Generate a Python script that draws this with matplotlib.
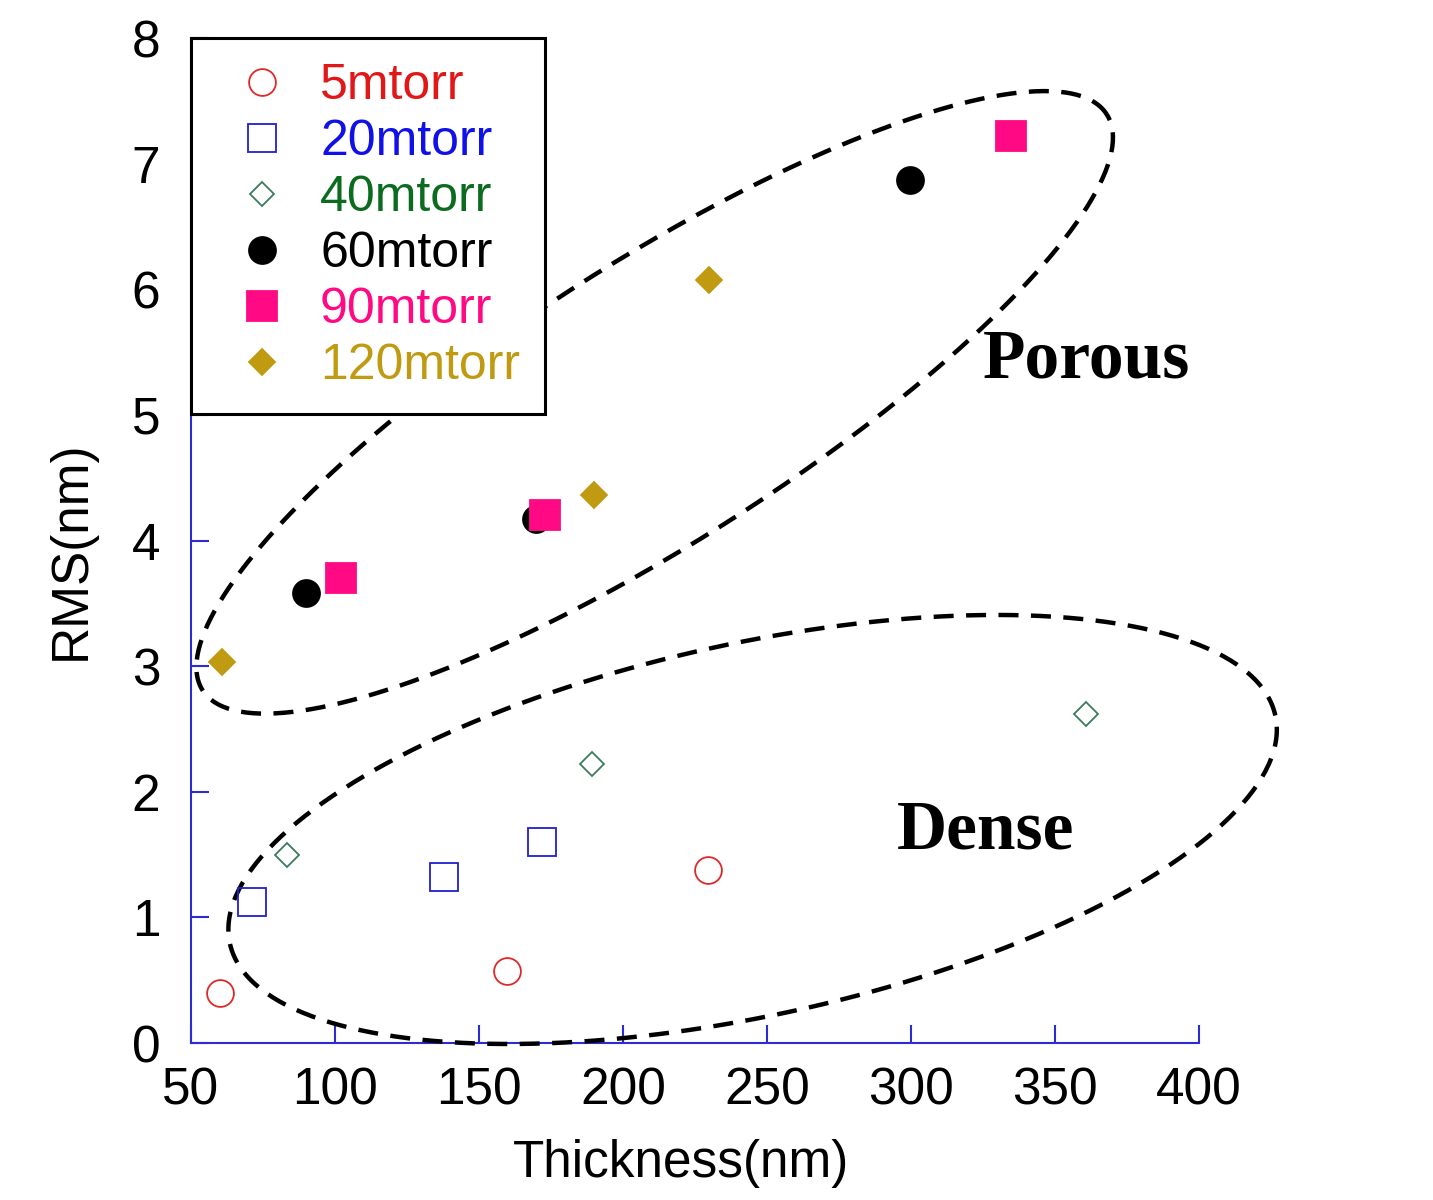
import numpy as np
import matplotlib
matplotlib.use("Agg")
import matplotlib.pyplot as plt

# data
labels = ["5mtorr", "20mtorr", "40mtorr", "60mtorr", "90mtorr", "120mtorr"]
thick_5 = [60.1, 159.7, 229.5]
rms_5 = [0.40, 0.57, 1.38]
thick_20 = [71.2, 137.8, 171.9]
rms_20 = [1.12, 1.32, 1.60]
thick_40 = [83.3, 189.2, 360.8]
rms_40 = [1.50, 2.22, 2.62]
thick_60 = [89.9, 169.8, 299.7]
rms_60 = [3.58, 4.17, 6.87]
thick_90 = [102.1, 172.9, 334.7]
rms_90 = [3.70, 4.20, 7.22]
thick_120 = [60.8, 189.9, 229.9]
rms_120 = [3.03, 4.36, 6.07]

xticks = [50, 100, 150, 200, 250, 300, 350, 400]
yticks = [0, 1, 2, 3, 4, 5, 6, 7, 8]

# group outlines: center (data), semi axes (px), angle (deg)
porous_ell = dict(center=(211.0, 5.10), a=536, b=140, angle=32.5)
dense_ell = dict(center=(245.0, 1.70), a=535, b=186, angle=12.3)

SANS = "Liberation Sans"
SERIF = "Liberation Serif"
plt.rcParams["font.family"] = SANS

fig = plt.figure(figsize=(14.33, 12), dpi=100)
ax = fig.add_axes([0.1333, 0.1308, 0.7034, 0.8375])

series = [
    (thick_5, rms_5, "o", "none", "#e02828", 19.3, "#e01818"),
    (thick_20, rms_20, "s", "none", "#2020d0", 20, "#1010e8"),
    (thick_40, rms_40, "D", "none", "#3d7a5a", 12.7, "#0b6b1e"),
    (thick_60, rms_60, "o", "black", "black", 19.4, "black"),
    (thick_90, rms_90, "s", "#ff0a84", "#ff0a84", 21, "#ff0a84"),
    (thick_120, rms_120, "D", "#c09a10", "#c09a10", 13.7, "#c09a10"),
]
text_colors = []
for (x, y, m, fc, ec, ms, tc), lab in zip(series, labels):
    ax.plot(x, y, linestyle="none", marker=m, markerfacecolor=fc,
            markeredgecolor=ec, markersize=ms, markeredgewidth=1.3,
            label=lab, zorder=4)
    text_colors.append(tc)

ax.set_xlim(50, 400)
ax.set_ylim(0, 8)
ax.set_xticks(xticks)
ax.set_yticks(yticks)

spine_col = "#2c2cd0"
for s in ["top", "right"]:
    ax.spines[s].set_visible(False)
for s in ["left", "bottom"]:
    ax.spines[s].set_color(spine_col)
    ax.spines[s].set_linewidth(1.5)
ax.tick_params(direction="in", length=13, width=1.5, color=spine_col,
               labelsize=37, labelcolor="black")
ax.tick_params(axis="x", pad=17)
ax.tick_params(axis="y", pad=22)

ax.set_xlabel("Thickness(nm)", fontsize=37)
ax.set_ylabel("RMS(nm)", fontsize=37)
ax.xaxis.set_label_coords(0.486, -0.095)
ax.yaxis.set_label_coords(-0.095, 0.49)

# dashed outlines around the two groups
def draw_outline(e):
    cx, cy = ax.transData.transform(e["center"])
    t = np.linspace(0, 2 * np.pi, 400)
    th = np.deg2rad(e["angle"])
    px = e["a"] * np.cos(t)
    py = e["b"] * np.sin(t)
    dx = cx + px * np.cos(th) - py * np.sin(th)
    dy = cy + px * np.sin(th) + py * np.cos(th)
    pts = ax.transData.inverted().transform(np.column_stack([dx, dy]))
    ax.plot(pts[:, 0], pts[:, 1], color="black", lw=3.2,
            linestyle=(0, (4.5, 2.8)), clip_on=False, zorder=3)

draw_outline(porous_ell)
draw_outline(dense_ell)

ax.text(0.991, 0.662, "Porous", transform=ax.transAxes, family=SERIF,
        fontweight="bold", fontsize=50, ha="right", va="baseline")
ax.text(0.876, 0.194, "Dense", transform=ax.transAxes, family=SERIF,
        fontweight="bold", fontsize=50, ha="right", va="baseline")

leg = ax.legend(loc="upper left", bbox_to_anchor=(0.0, 1.0), fontsize=36,
                frameon=True, fancybox=False, framealpha=1, borderaxespad=0,
                labelspacing=0.2, handletextpad=0.24, borderpad=0.5,
                handlelength=1.84, numpoints=1)
leg.get_frame().set_edgecolor("black")
leg.get_frame().set_linewidth(2.2)
leg.set_zorder(6)
for txt, c in zip(leg.get_texts(), text_colors):
    txt.set_color(c)

fig.savefig("out.png", dpi=100)
